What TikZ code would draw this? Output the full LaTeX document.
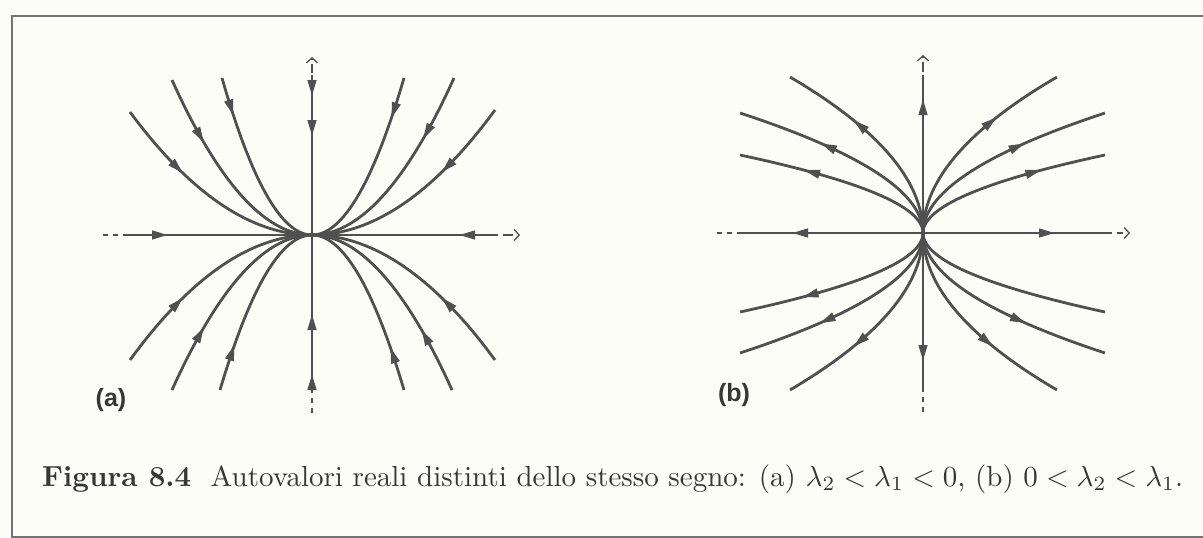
\documentclass[tikz,border=0pt]{standalone}
\usepackage{fontspec}
\usetikzlibrary{arrows.meta}
\newfontfamily\labfont{Liberation Sans}
\definecolor{ink}{RGB}{80,80,80}
\definecolor{bg}{RGB}{253,253,247}
\definecolor{framec}{RGB}{115,115,115}
\definecolor{txt}{RGB}{55,55,55}
\tikzset{
  curve/.style={draw=ink, line width=2.8pt},
  tipseg/.style={-{Triangle[length=16pt,width=8.5pt]}, draw=ink, line width=2.8pt},
  axdash/.style={draw=ink, line width=1.3pt, dash pattern=on 5pt off 5pt},
  axtip/.style={-{Straight Barb[length=5pt,width=11pt,line width=1.3pt]}},
  panellabel/.style={font=\labfont\bfseries\fontsize{25}{27}\selectfont, text=txt, inner sep=0pt},
}
% stable node: parabola x = X s, y = Y s^2, flowing toward the origin
\newcommand{\stablecurve}[3]{%
  \draw[curve] plot[domain=0:1,samples=40,smooth] ({(#1)*(1-\x)},{(#2)*(1-\x)*(1-\x)});
  \pgfmathsetmacro\qax{(#1)*(#3)}%
  \pgfmathsetmacro\qay{(#2)*(#3)*(#3)}%
  \pgfmathsetmacro\qux{-1*(#1)}%
  \pgfmathsetmacro\quy{-2*(#2)*(#3)}%
  \pgfmathsetmacro\qun{veclen(\qux,\quy)}%
  \draw[tipseg] ({\qax-8*\qux/\qun},{\qay-8*\quy/\qun}) -- ({\qax+8*\qux/\qun},{\qay+8*\quy/\qun});
}
% unstable node: x = X s^2, y = Y s, flowing away from the origin
\newcommand{\unstablecurve}[3]{%
  \draw[curve] plot[domain=0:1,samples=40,smooth] ({(#1)*\x*\x},{(#2)*\x});
  \pgfmathsetmacro\qax{(#1)*(#3)*(#3)}%
  \pgfmathsetmacro\qay{(#2)*(#3)}%
  \pgfmathsetmacro\qux{2*(#1)*(#3)}%
  \pgfmathsetmacro\quy{1*(#2)}%
  \pgfmathsetmacro\qun{veclen(\qux,\quy)}%
  \draw[tipseg] ({\qax-8*\qux/\qun},{\qay-8*\quy/\qun}) -- ({\qax+8*\qux/\qun},{\qay+8*\quy/\qun});
}
\begin{document}
\begin{tikzpicture}[x=1pt,y=-1pt]
\useasboundingbox (0,0) rectangle (1203,538);
\clip (0,0) rectangle (1203,538);
\fill[bg] (0,0) rectangle (1203,538);
% frame
\draw[framec, line width=1.6pt] (1210,16) -- (12,16) -- (12,545);
\draw[framec, line width=1.6pt] (12,537) -- (1210,537);

% ---------- panel (a) ----------
\begin{scope}[shift={(312,235)}]
  \draw[axdash] (-209,0) -- (196,0);
  \draw[axdash, axtip] (196,0) -- (208,0);
  \draw[axdash] (0,178) -- (0,-166);
  \draw[axdash, axtip] (0,-166) -- (0,-178);
  \draw[curve] (-184,0) -- (185,0);
  \draw[curve] (0,-160) -- (0,155);
  \draw[tipseg] (-160,0) -- (-144,0);
  \draw[tipseg] (163,0) -- (147,0);
  \draw[tipseg] (0,-155) -- (0,-139);
  \draw[tipseg] (0,-115) -- (0,-99);
  \draw[tipseg] (0,95) -- (0,79);
  \draw[tipseg] (0,155) -- (0,139);
  \stablecurve{-182}{-123}{0.74}
  \stablecurve{-140}{-155}{0.80}
  \stablecurve{-90}{-157}{0.90}
  \stablecurve{183}{-125}{0.74}
  \stablecurve{142}{-157}{0.81}
  \stablecurve{92}{-157}{0.89}
  \stablecurve{-182}{125}{0.74}
  \stablecurve{-140}{155}{0.80}
  \stablecurve{-92}{155}{0.87}
  \stablecurve{183}{125}{0.74}
  \stablecurve{140}{155}{0.81}
  \stablecurve{92}{155}{0.88}
\end{scope}
\node[panellabel] (la) at (111,400) {(a)};

% ---------- panel (b) ----------
\begin{scope}[shift={(923,233)}]
  \draw[axdash] (-206,0) -- (195,0);
  \draw[axdash, axtip] (195,0) -- (207,0);
  \draw[axdash] (0,179) -- (0,-166);
  \draw[axdash, axtip] (0,-166) -- (0,-178);
  \draw[curve] (-183,0) -- (184,0);
  \draw[curve] (0,-158) -- (0,155);
  \draw[tipseg] (-115,0) -- (-131,0);
  \draw[tipseg] (116,0) -- (132,0);
  \draw[tipseg] (0,-118) -- (0,-134);
  \draw[tipseg] (0,112) -- (0,128);
  \unstablecurve{-183}{-78}{0.78}
  \unstablecurve{-183}{-120}{0.72}
  \unstablecurve{-133}{-156}{0.69}
  \unstablecurve{182}{-78}{0.78}
  \unstablecurve{182}{-120}{0.72}
  \unstablecurve{134}{-156}{0.71}
  \unstablecurve{-183}{79}{0.785}
  \unstablecurve{-183}{120}{0.725}
  \unstablecurve{-133}{157}{0.69}
  \draw[curve] plot[domain=0:1,samples=40,smooth] ({182*\x*\x},{79*\x});
  \unstablecurve{182}{120}{0.725}
  \unstablecurve{134}{157}{0.69}
\end{scope}
\node[panellabel] (lb) at (734,395) {(b)};

% caption
\node[anchor=base west, inner sep=0pt, text=txt] (cap) at (42,486)
  {\resizebox{1141pt}{!}{\textbf{Figura 8.4}\ \ Autovalori reali distinti dello stesso segno: (a) $\lambda_2<\lambda_1<0$, (b) $0<\lambda_2<\lambda_1$.}};
\end{tikzpicture}
\end{document}
